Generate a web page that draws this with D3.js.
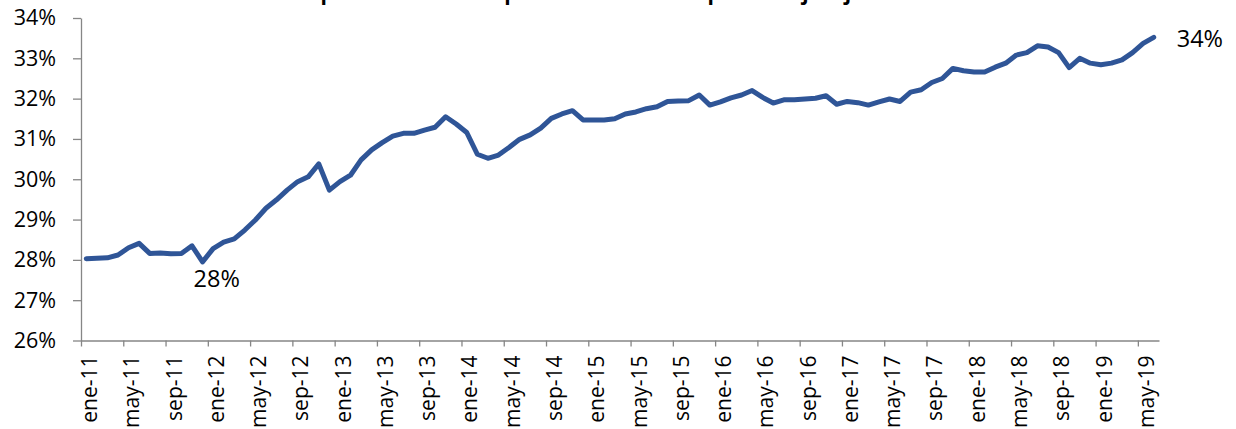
<!DOCTYPE html>
<html>
<head>
<meta charset="utf-8">
<script src="https://cdn.jsdelivr.net/npm/d3@7"></script>
<style>
  body { margin: 0; background: #fff; }
  text { font-family: 'Open Sans', sans-serif; }
</style>
</head>
<body>
<div id="chart"></div>
<script>
// monthly values, ene-11 .. jun-19 (percent)
const values = [
  28.03, 28.04, 28.05, 28.12, 28.30, 28.41, 28.16, 28.17, 28.15, 28.16, 28.35, 27.95,
  28.28, 28.44, 28.52, 28.74, 28.99, 29.28, 29.49, 29.73, 29.94, 30.06, 30.38, 29.73,
  29.94, 30.10, 30.48, 30.73, 30.91, 31.07, 31.14, 31.14, 31.22, 31.29, 31.55, 31.37,
  31.16, 30.62, 30.52, 30.60, 30.79, 30.99, 31.10, 31.27, 31.51, 31.62, 31.70, 31.47,
  31.47, 31.47, 31.50, 31.62, 31.67, 31.75, 31.80, 31.93, 31.94, 31.95, 32.09, 31.84,
  31.92, 32.02, 32.09, 32.20, 32.03, 31.89, 31.97, 31.97, 31.99, 32.01, 32.07, 31.86,
  31.93, 31.90, 31.84, 31.92, 31.99, 31.93, 32.16, 32.22, 32.40, 32.50, 32.75, 32.69,
  32.66, 32.66, 32.78, 32.88, 33.08, 33.14, 33.31, 33.28, 33.14, 32.77, 33.00, 32.88,
  32.84, 32.88, 32.96, 33.14, 33.37, 33.52
];

// one label every 4 months
const tickLabels = [
  'ene-11', 'may-11', 'sep-11', 'ene-12', 'may-12', 'sep-12', 'ene-13', 'may-13', 'sep-13',
  'ene-14', 'may-14', 'sep-14', 'ene-15', 'may-15', 'sep-15', 'ene-16', 'may-16', 'sep-16',
  'ene-17', 'may-17', 'sep-17', 'ene-18', 'may-18', 'sep-18', 'ene-19', 'may-19'
];

const yTicks = [26, 27, 28, 29, 30, 31, 32, 33, 34];

// points that carry a data label
const labelled = [11, 101];

const title = 'Participación del sector privado en el total: porcentaje a junio 2019';

const width = 1236;
const height = 429;
const margin = { top: 18, bottom: 88.5, left: 81, right: 77 };

const svg = d3.select('#chart')
  .append('svg')
  .attr('width', width)
  .attr('height', height)
  .attr('viewBox', [0, 0, width, height]);

const x = d3.scaleLinear()
  .domain([0, values.length])
  .range([margin.left, width - margin.right]);

const y = d3.scaleLinear()
  .domain([26, 34])
  .range([height - margin.bottom, margin.top]);

const pct = d3.format('.0%');

// title sits mostly above the top edge, as in the source picture
svg.append('text')
  .attr('x', 602)
  .attr('y', -0.5)
  .attr('text-anchor', 'middle')
  .attr('font-size', '21px')
  .attr('font-weight', 'bold')
  .text(title);

function yAxis(g) {
  g.attr('transform', `translate(${margin.left}, 0)`)
    .call(d3.axisLeft(y).tickValues(yTicks).tickSize(8).tickSizeOuter(0).tickPadding(17)
      .tickFormat(d => d + '%'))
    .attr('font-size', '21.5px')
    .attr('font-family', null);
  g.selectAll('path, line').attr('stroke', '#868686').attr('stroke-width', 1.3);
  g.selectAll('text').attr('fill', '#000');
}

function xAxis(g) {
  g.attr('transform', `translate(0, ${height - margin.bottom})`)
    .call(d3.axisBottom(x).tickValues(d3.range(0, values.length, 4)).tickSize(6).tickSizeOuter(0)
      .tickFormat((d, i) => tickLabels[i]))
    .attr('font-size', '21px')
    .attr('font-family', null);
  g.selectAll('path, line').attr('stroke', '#868686').attr('stroke-width', 1.3);
  g.selectAll('text')
    .attr('fill', '#000')
    .attr('transform', 'rotate(-90)')
    .attr('text-anchor', 'end')
    .attr('x', -15)
    .attr('y', 15.5)
    .attr('dy', 0);
}

svg.append('g').call(yAxis);
svg.append('g').call(xAxis);

const line = d3.line()
  .x((d, i) => x(i + 0.5))
  .y(d => y(d));

svg.append('path')
  .datum(values)
  .attr('fill', 'none')
  .attr('stroke', '#2F5597')
  .attr('stroke-width', 5)
  .attr('stroke-linejoin', 'round')
  .attr('stroke-linecap', 'round')
  .attr('d', line);

svg.append('g')
  .selectAll('text')
  .data(labelled)
  .join('text')
    .attr('x', i => i === values.length - 1 ? x(i + 0.5) + 23 : x(i + 0.5) - 9)
    .attr('y', i => i === values.length - 1 ? y(values[i]) + 10 : y(values[i]) + 25)
    .attr('font-size', '23.5px')
    .attr('fill', '#000')
    .text(i => pct(values[i] / 100));
</script>
</body>
</html>
